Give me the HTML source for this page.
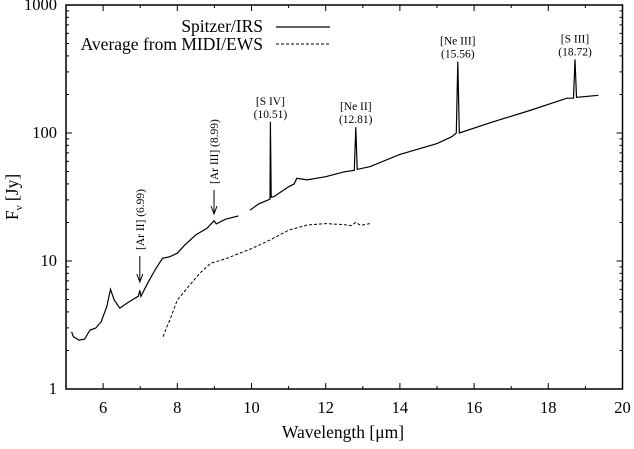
<!DOCTYPE html>
<html><head><meta charset="utf-8"><style>
body{margin:0;background:#fff}
svg text{font-family:"Liberation Serif",serif;fill:#000}
</style></head><body>
<svg id="c" width="634" height="444" viewBox="0 0 634 444" xmlns="http://www.w3.org/2000/svg">
<g id="g"></g>
</svg>
<script>
const xTicks=[6,8,10,12,14,16,18,20];
const yTicks=[1,10,100,1000];
const irs1X=[5.15,5.2,5.35,5.5,5.65,5.8,5.95,6.1,6.2,6.3,6.45,6.6,6.8,6.95,6.99,7.02,7.2,7.4,7.6,7.8,8.0,8.2,8.5,8.8,8.99,9.05,9.3,9.65];
const irs1Y=[2.8,2.56,2.41,2.45,2.89,2.99,3.36,4.4,6.0,4.96,4.28,4.6,5.0,5.3,5.9,5.3,6.7,8.5,10.5,10.8,11.5,13.3,16,18,20.6,19.5,21.2,22.5];
const irs2X=[9.96,10.2,10.45,10.5,10.51,10.53,10.6,11.0,11.15,11.22,11.5,12.0,12.5,12.77,12.81,12.85,13.2,14.0,15.0,15.4,15.52,15.56,15.6,16.5,17.5,18.5,18.68,18.72,18.76,19.35];
const irs2Y=[25,28,30,30.5,122,31.5,31.8,38,40,44.3,43,45.6,49.8,51,111,52,54.6,68,82.7,93.5,100,361,100,122,150,187,187,376,190,197];
const ewsX=[7.62,7.7,7.8,8.0,8.3,8.6,8.9,9.3,10.0,10.5,11.0,11.5,12.0,12.5,12.7,12.8,12.95,13.2];
const ewsY=[2.56,2.98,3.46,4.96,6.3,8.0,9.6,10.4,12.5,14.6,17.4,19.1,19.6,19.2,18.9,20,19,19.6];
const lines=[[6.99,"[Ar II] (6.99)"],[8.99,"[Ar III] (8.99)"]];
const peaks=[[10.51,"[S IV]","(10.51)",122],[12.81,"[Ne II]","(12.81)",111],[15.56,"[Ne III]","(15.56)",361],[18.72,"[S III]","(18.72)",376]];

const X0=66,X1=622.5,Y0=389,Y1=5;
const sx=v=>X0+(v-5)/15*(X1-X0);
const sy=v=>Y0-Math.log10(v)/3*(Y0-Y1);
const NS="http://www.w3.org/2000/svg";
const g=document.getElementById('g');
function mk(t,a,txt){const e=document.createElementNS(NS,t);for(const k in a)e.setAttribute(k,a[k]);if(txt!==undefined)e.textContent=txt;g.appendChild(e);return e;}

let f=mk('rect',{x:X0,y:Y1,width:X1-X0,height:Y0-Y1,fill:'none',stroke:'#000','stroke-width':1.5});


for(let v=5;v<=20;v++){
  const x=sx(v),L=(v%2==0)?6:3;
  let t=mk('path',{d:`M${x},${Y0}v${-L}M${x},${Y1}v${L}`,stroke:'#000','stroke-width':1});
  
  
}
xTicks.forEach(v=>{let t=mk('text',{x:sx(v),y:413,'font-size':16.5,'text-anchor':'middle'},String(v));

});
for(let d=0;d<3;d++)for(let m=1;m<=9;m++){
  const y=sy(m*Math.pow(10,d)),L=m==1?6:3;
  let t=mk('path',{d:`M${X0},${y}h${L}M${X1},${y}h${-L}`,stroke:'#000','stroke-width':1});
  
  
}
yTicks.forEach(v=>{let t=mk('text',{x:57,y:sy(v)+5,'font-size':16.5,'text-anchor':'end'},String(v));

});

let xt=mk('text',{x:343,y:438,'font-size':17.5,'text-anchor':'middle'},'Wavelength [μm]');


let yt=mk('text',{x:0,y:0,'font-size':17.5,'text-anchor':'middle',transform:'translate(18,197) rotate(-90)'});
yt.innerHTML='F<tspan font-size="11" dy="4">ν</tspan><tspan dy="-4"> [Jy]</tspan>';



function path(xs,ys){return xs.map((v,i)=>(i?'L':'M')+sx(v).toFixed(1)+','+sy(ys[i]).toFixed(1)).join('');}
let p1=mk('path',{d:path(irs1X,irs1Y),fill:'none',stroke:'#000','stroke-width':1.2});


let p2=mk('path',{d:path(irs2X,irs2Y),fill:'none',stroke:'#000','stroke-width':1.2});


let p3=mk('path',{d:path(ewsX,ewsY),fill:'none',stroke:'#000','stroke-width':1,'stroke-dasharray':'3,2'});



lines.forEach(([w,lab],i)=>{
  const x=sx(w);const ytop=i==0?256:190,ybot=i==0?282:214;
  let a=mk('path',{d:`M${x},${ytop}V${ybot}M${x-3},${ybot-8}L${x},${ybot}L${x+3},${ybot-8}`,fill:'none',stroke:'#000','stroke-width':1});
  
  
  let t=mk('text',{x:0,y:0,'font-size':11.5,'text-anchor':'start',transform:`translate(${x+4},${ytop-6}) rotate(-90)`},lab);
  
  
});
peaks.forEach(([w,a,b,v])=>{
  const x=sx(w),y=sy(v);
  let t=mk('text',{x:x,y:y-17,'font-size':11.5,'text-anchor':'middle'},a);
  
  
  let t2=mk('text',{x:x,y:y-4,'font-size':11.5,'text-anchor':'middle'},b);
  
  
});

let l1=mk('text',{x:263,y:32,'font-size':17.5,'text-anchor':'end'},'Spitzer/IRS');


let s1=mk('path',{d:'M276,27H330',stroke:'#000','stroke-width':1.2});


let l2=mk('text',{x:263,y:50,'font-size':17.5,'text-anchor':'end'},'Average from MIDI/EWS');


let s2=mk('path',{d:'M276,44H330',stroke:'#000','stroke-width':1,'stroke-dasharray':'3,2'});


</script>
</body></html>
